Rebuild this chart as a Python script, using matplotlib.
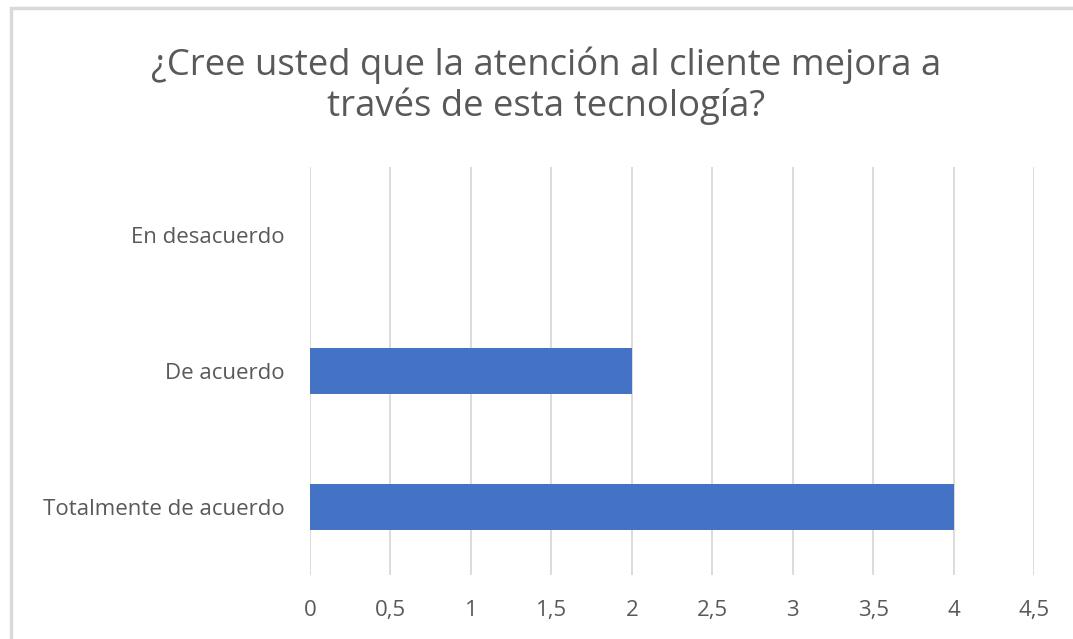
import matplotlib.pyplot as plt
from matplotlib.patches import Rectangle
from matplotlib.ticker import FuncFormatter

categories = ["Totalmente de acuerdo", "De acuerdo", "En desacuerdo"]
values = [4, 2, 0]
xticks = [0, 0.5, 1, 1.5, 2, 2.5, 3, 3.5, 4, 4.5]
title = "¿Cree usted que la atención al cliente mejora a\ntravés de esta tecnología?"

plt.rcParams["font.family"] = ["Open Sans", "DejaVu Sans"]
text_color = "#595959"

fig = plt.figure(figsize=(10.73, 6.39), dpi=100)
fig.patches.append(Rectangle((11 / 1073, -0.1), 1.2, 1 - 8 / 639 + 0.1, transform=fig.transFigure,
                             fill=False, edgecolor="#d9d9d9", linewidth=2.5))

ax = fig.add_axes([310 / 1073, 1 - 575 / 639, (1034 - 310) / 1073, (575 - 167) / 639])
ax.barh(range(len(categories)), values, height=0.345, color="#4472c4", zorder=3)
ax.set_xlim(0, 4.5)
ax.set_ylim(-0.5, len(categories) - 0.5)
ax.set_xticks(xticks)
ax.xaxis.set_major_formatter(FuncFormatter(lambda v, p: ("%g" % v).replace(".", ",")))
ax.set_yticks(range(len(categories)))
ax.set_yticklabels(categories)
ax.grid(axis="x", color="#d9d9d9", linewidth=1.3, zorder=0)
for s in ax.spines.values():
    s.set_visible(False)
ax.tick_params(axis="both", length=0, labelsize=16, labelcolor=text_color)
ax.tick_params(axis="x", pad=18)
ax.tick_params(axis="y", pad=18)

fig.text(546 / 1073, 1 - 86 / 639, title, ha="center", va="center", fontsize=26.3, color=text_color,
         linespacing=1.12)

fig.savefig("out.png", dpi=100)
